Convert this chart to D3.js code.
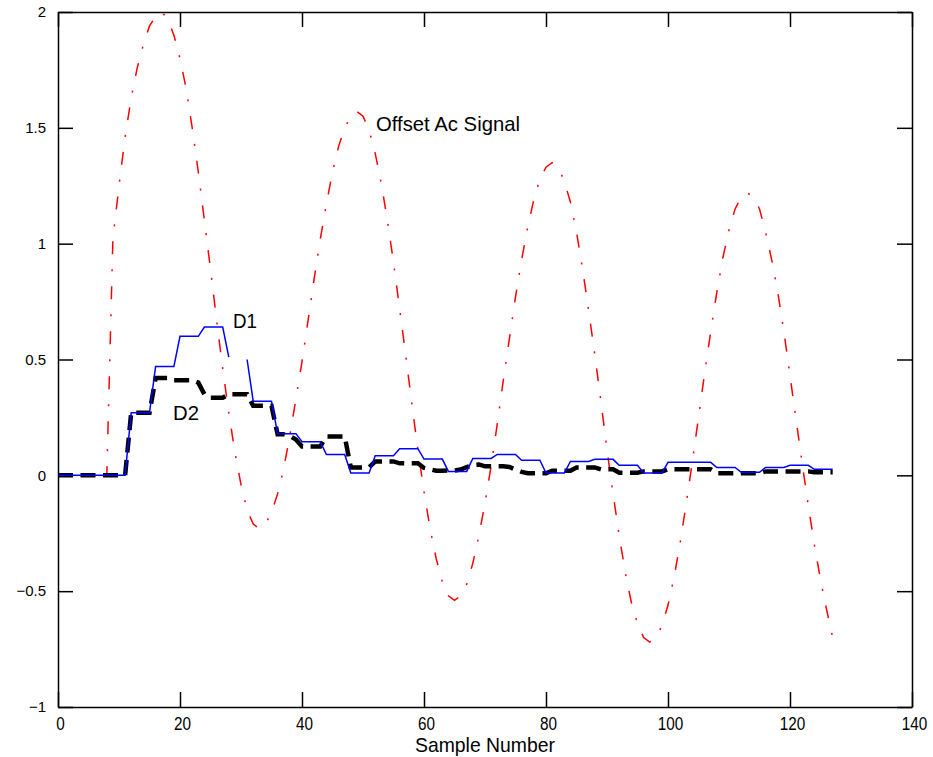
<!DOCTYPE html>
<html>
<head>
    <meta charset="utf-8">
    <title>Offset Ac Signal</title>
    <script type="text/javascript" src="https://cdn.jsdelivr.net/npm/d3@7"></script>
    <style type="text/css">
        body { margin: 0; background: #fff; }
        .axis path, .axis line { stroke: #000; stroke-width: 1.5px; }
        .axis text { fill: #000; }
        text.note { font-family: "Liberation Sans", Arial, sans-serif; font-size: 21px; fill: #000; }
    </style>
</head>
<body>
<script type="text/javascript">
    // sample values, one per sample number 0..127
    var offsetAc = [
        0, 0, 0, 0, 0, 0, 0, 0, 0,
        1.02, 1.25, 1.46, 1.63, 1.76, 1.86, 1.94, 1.98, 2.0, 1.97, 1.9, 1.8, 1.67, 1.5, 1.31, 1.1,
        0.89, 0.67, 0.46, 0.27, 0.1, -0.04, -0.15, -0.21, -0.23,
        -0.21, -0.16, -0.08, 0.03, 0.17, 0.33, 0.49, 0.67, 0.85, 1.02, 1.17, 1.31, 1.42, 1.5, 1.55, 1.57,
        1.55, 1.49, 1.39, 1.26, 1.1, 0.92, 0.72, 0.52, 0.31, 0.11, -0.07, -0.23, -0.36, -0.46, -0.52, -0.54,
        -0.52, -0.47, -0.38, -0.26, -0.12, 0.04, 0.22, 0.41, 0.59, 0.77, 0.93, 1.07, 1.19, 1.28, 1.33, 1.35,
        1.33, 1.27, 1.18, 1.05, 0.89, 0.71, 0.52, 0.32, 0.11, -0.08, -0.26, -0.42, -0.55, -0.64, -0.7, -0.72,
        -0.7, -0.65, -0.56, -0.44, -0.29, -0.12, 0.06, 0.25, 0.44, 0.62, 0.79, 0.94, 1.06, 1.15, 1.2, 1.22,
        1.2, 1.15, 1.05, 0.93, 0.79, 0.62, 0.43, 0.24, 0.05, -0.13, -0.3, -0.45, -0.58, -0.7
    ];

    var d1 = [
        0, 0, 0, 0, 0, 0, 0, 0, 0, 0, 0, 0,
        0.27, 0.27, 0.27, 0.27, 0.47, 0.47, 0.47, 0.47,
        0.6, 0.6, 0.6, 0.6, 0.64, 0.64, 0.64, 0.64,
        0.51, null, null, 0.5, 0.32, 0.32, 0.32, 0.32,
        0.18, 0.18, 0.18, 0.18, 0.145, 0.145, 0.145, 0.145,
        0.09, 0.09, 0.09, 0.09, 0.01, 0.01, 0.01, 0.01,
        0.085, 0.085, 0.085, 0.085, 0.115, 0.115, 0.115, 0.115,
        0.07, 0.07, 0.07, 0.07, 0.017, 0.017, 0.017, 0.017,
        0.073, 0.073, 0.073, 0.073, 0.09, 0.09, 0.09, 0.09,
        0.065, 0.065, 0.065, 0.065, 0.01, 0.01, 0.01, 0.01,
        0.06, 0.06, 0.06, 0.06, 0.069, 0.069, 0.069, 0.069,
        0.043, 0.043, 0.043, 0.043, 0.01, 0.01, 0.01, 0.01,
        0.056, 0.056, 0.056, 0.056, 0.056, 0.056, 0.056, 0.056,
        0.034, 0.034, 0.034, 0.034, 0.013, 0.013, 0.013, 0.013,
        0.034, 0.034, 0.034, 0.034, 0.043, 0.043, 0.043, 0.043,
        0.026, 0.026, 0.026, 0.026
    ];

    var d2 = [
        0, 0, 0, 0, 0, 0, 0, 0, 0, 0, 0, 0,
        0.27, 0.27, 0.27, 0.27, 0.42, 0.42, 0.42, 0.41,
        0.41, 0.41, 0.41, 0.4, 0.35, 0.335, 0.335, 0.335,
        0.35, 0.35, 0.35, 0.35, 0.3, 0.3, 0.3, 0.3,
        0.177, 0.177, 0.17, 0.155, 0.125, 0.125, 0.125, 0.125,
        0.168, 0.168, 0.168, 0.168, 0.034, 0.034, 0.034, 0.034,
        0.06, 0.06, 0.06, 0.06, 0.052, 0.052, 0.052, 0.052,
        0.032, 0.026, 0.02, 0.02, 0.021, 0.021, 0.025, 0.035,
        0.045, 0.047, 0.039, 0.039, 0.039, 0.039, 0.036, 0.025,
        0.015, 0.009, 0.009, 0.009, 0.009, 0.02, 0.02, 0.02,
        0.02, 0.034, 0.034, 0.034, 0.034, 0.026, 0.026, 0.026,
        0.011, 0.011, 0.011, 0.011, 0.017, 0.017, 0.017, 0.017,
        0.026, 0.026, 0.026, 0.026, 0.026, 0.026, 0.026, 0.026,
        0.009, 0.009, 0.009, 0.009, 0.009, 0.009, 0.009, 0.009,
        0.017, 0.017, 0.017, 0.017, 0.017, 0.017, 0.017, 0.017,
        0.013, 0.013, 0.013, 0.013
    ];

    var xTicks = [0, 20, 40, 60, 80, 100, 120, 140];
    var yTicks = [-1, -0.5, 0, 0.5, 1, 1.5, 2];

    var width = 933, height = 757;
    var margin = {top: 12, right: 21, bottom: 50, left: 58};
    var w = width - margin.left - margin.right,
        h = height - margin.top - margin.bottom;

    var svg = d3.select("body").append("svg")
            .attr("width", width)
            .attr("height", height);

    var g = svg.append("g")
            .attr("transform", "translate(" + margin.left + "," + margin.top + ")");

    var x = d3.scaleLinear().domain([0, 140]).range([0, w]);
    var y = d3.scaleLinear().domain([-1, 2]).range([h, 0]);

    var fmt = function (d) { return d < 0 ? "\u2212" + Math.abs(d) : String(d); };

    // frame: four axes with inward ticks
    var bottom = g.append("g").attr("class", "axis")
            .attr("transform", "translate(0," + h + ")")
            .call(d3.axisBottom(x).tickValues(xTicks).tickSizeInner(-15).tickSizeOuter(0).tickPadding(10));
    bottom.selectAll("text")
            .style("font-family", "'Liberation Sans', Arial, sans-serif")
            .style("font-size", "18px")
            .attr("dx", 2)
            .attr("textLength", function (d) { return String(d).length * 8.5; })
            .attr("lengthAdjust", "spacingAndGlyphs");

    var left = g.append("g").attr("class", "axis")
            .call(d3.axisLeft(y).tickValues(yTicks).tickFormat(fmt).tickSizeInner(-15).tickSizeOuter(0).tickPadding(12));
    left.selectAll("text")
            .style("font-family", "'Liberation Sans', Arial, sans-serif")
            .style("font-size", "15px");

    g.append("g").attr("class", "axis")
            .call(d3.axisTop(x).tickValues(xTicks).tickSizeInner(-15).tickSizeOuter(0).tickFormat(""));

    g.append("g").attr("class", "axis")
            .attr("transform", "translate(" + w + ",0)")
            .call(d3.axisRight(y).tickValues(yTicks).tickSizeInner(-15).tickSizeOuter(0).tickFormat(""));

    function series(vals) {
        return vals.map(function (v, i) { return {n: i, v: v}; });
    }

    var line = d3.line()
            .defined(function (d) { return d.v !== null; })
            .x(function (d) { return x(d.n); })
            .y(function (d) { return y(d.v); });

    g.append("path")
            .datum(series(offsetAc))
            .attr("fill", "none")
            .attr("stroke", "#ff0000")
            .attr("stroke-width", 1.5)
            .attr("stroke-dasharray", "13,15,2,15")
            .attr("d", line);

    g.append("path")
            .datum(series(d2))
            .attr("fill", "none")
            .attr("stroke", "#000")
            .attr("stroke-width", 4.5)
            .attr("stroke-dasharray", "15,7.5")
            .attr("d", line);

    g.append("path")
            .datum(series(d1))
            .attr("fill", "none")
            .attr("stroke", "#0000ff")
            .attr("stroke-width", 1.5)
            .attr("d", line);

    // annotations
    svg.append("text").attr("class", "note")
            .attr("x", 376).attr("y", 131)
            .attr("textLength", 144).attr("lengthAdjust", "spacingAndGlyphs")
            .text("Offset Ac Signal");

    svg.append("text").attr("class", "note")
            .attr("x", 233).attr("y", 328)
            .attr("textLength", 24).attr("lengthAdjust", "spacingAndGlyphs")
            .text("D1");

    svg.append("text").attr("class", "note")
            .attr("x", 173).attr("y", 420)
            .attr("textLength", 26).attr("lengthAdjust", "spacingAndGlyphs")
            .text("D2");

    svg.append("text").attr("class", "note")
            .attr("x", 485).attr("y", 752)
            .attr("text-anchor", "middle")
            .attr("textLength", 140).attr("lengthAdjust", "spacingAndGlyphs")
            .text("Sample Number");
</script>
</body>
</html>
